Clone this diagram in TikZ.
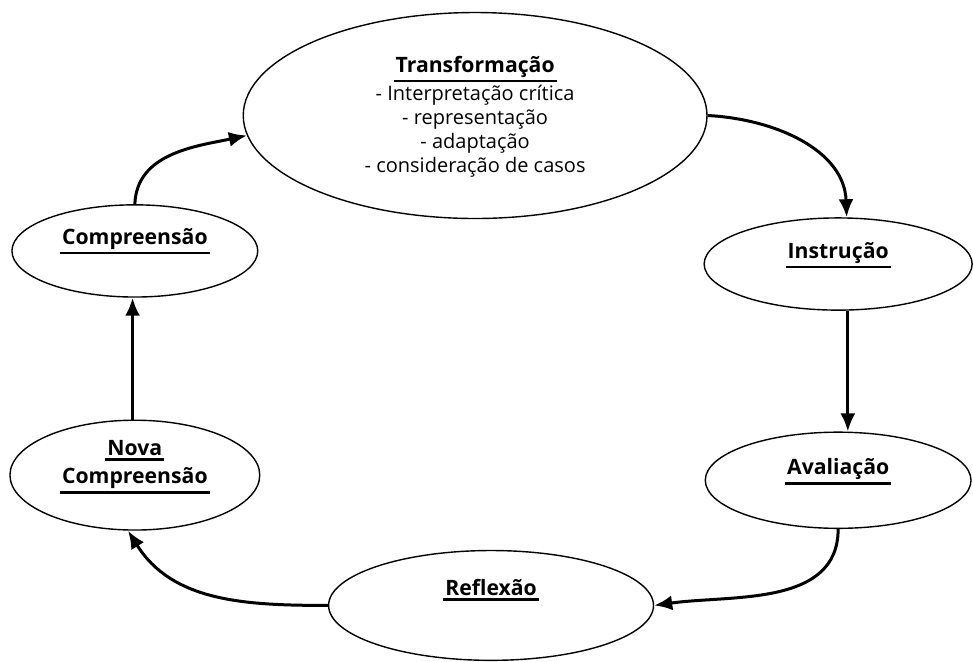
\documentclass[tikz,border=0pt]{standalone}
\usepackage{fontspec}
\setmainfont{Open Sans}
\usetikzlibrary{arrows.meta,positioning,shapes.geometric}
\newcommand{\ulab}[1]{\leavevmode\vtop{\hbox{\kern1pt#1\kern1pt}\kern1.2pt\hrule height 1.1pt}}
\tikzset{
  stage/.style={ellipse,draw=black,line width=0.7pt,inner sep=0pt,
    minimum width=#1},
  stage/.default=45mm,
  lbl/.style={font=\fontsize{10.6}{14}\selectfont\bfseries,align=center,inner sep=0pt},
  flow/.style={-{Latex[length=9pt,width=7.5pt]},line width=1.5pt},
}

\begin{document}
\begin{tikzpicture}
  \useasboundingbox (0,0) rectangle (17.1,11.62);
  % the six stages of the cycle
  \node[stage=81.5mm,minimum height=36.2mm] (trans) at (8.35,9.59) {};
  \node[stage=43.2mm,minimum height=16.2mm] (comp) at (2.37,7.21) {};
  \node[stage=47.1mm,minimum height=16.2mm] (instr) at (14.73,6.98) {};
  \node[stage=46.7mm,minimum height=16.9mm] (aval) at (14.73,3.18) {};
  \node[stage=43.9mm,minimum height=19.3mm] (nova) at (2.37,3.27) {};
  \node[stage=57.1mm,minimum height=19.3mm] (refl) at (8.63,0.98) {};
  % texts
  \node[lbl,font=\fontsize{10}{12}\selectfont] (transT) at ([yshift=-0.02cm]trans.center)
    {\ulab{\fontsize{10.6}{12}\selectfont\bfseries Transformação}\\[0.5pt] - Interpretação crítica\\ - representação\\ - adaptação\\ - consideração de casos};
  \node[lbl] (compT) at ([yshift=0.17cm]comp.center) {\ulab{Compreensão}};
  \node[lbl] (instrT) at ([yshift=0.16cm]instr.center) {\ulab{Instrução}};
  \node[lbl] (avalT) at ([yshift=0.15cm]aval.center) {\ulab{Avaliação}};
  \node[lbl] (novaT) at ([yshift=0.14cm]nova.center) {\ulab{Nova}\\[0pt]\ulab{Compreensão}};
  \node[lbl] (reflT) at ([yshift=0.27cm]refl.center) {\ulab{Reflexão}};
  % arrows
  \draw[flow] (comp.north) to[out=88,in=192] (trans.185);
  \draw[flow] (trans.east) to[out=-3,in=92] ([xshift=0.15cm]instr.north);
  \draw[flow] ([xshift=0.17cm]instr.south) -- ([xshift=0.17cm]aval.north);
  \draw[flow] (aval.south) to[out=-90,in=8] (refl.east);
  \draw[flow] (refl.west) to[out=180,in=-58] ([xshift=-0.12cm]nova.south);
  \draw[flow] ([xshift=-0.04cm]nova.north) -- ([xshift=-0.04cm]comp.south);
\end{tikzpicture}
\end{document}
